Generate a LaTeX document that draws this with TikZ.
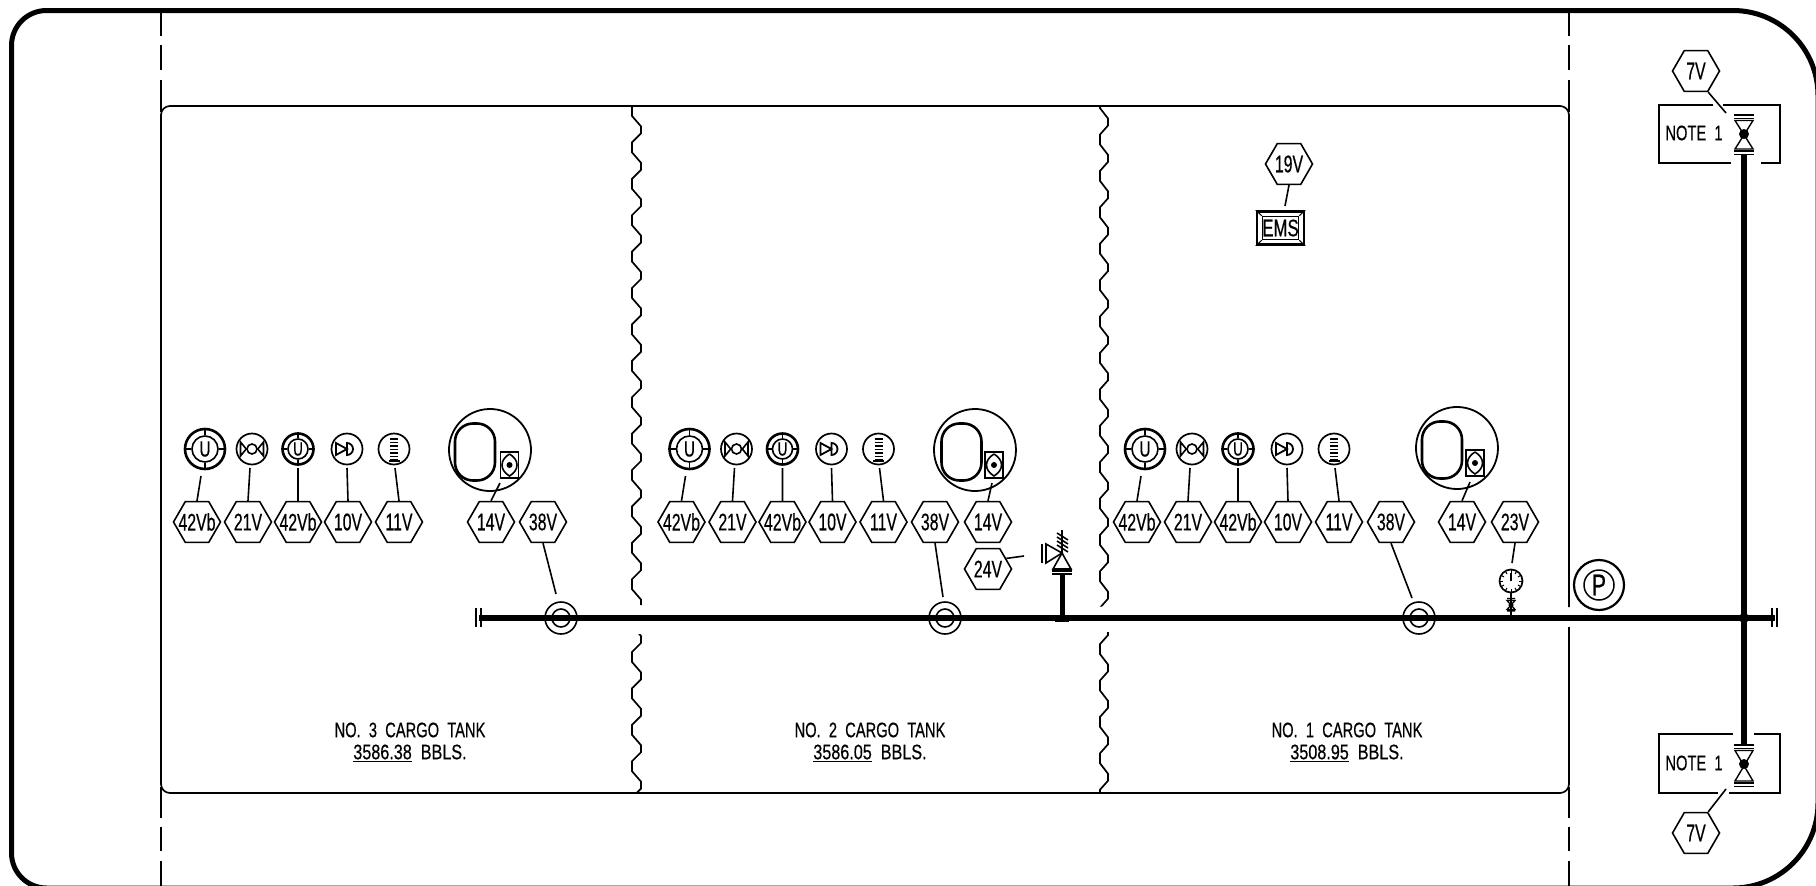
\documentclass[tikz,border=0pt]{standalone}
\usepackage{fontspec}
\usetikzlibrary{shapes.geometric}
\newfontfamily\cadfont[WordSpace=2,FakeBold=0.6]{Liberation Sans}
\newcommand{\cad}[2]{\scalebox{.7}[1]{\fontsize{#1}{#1}\cadfont #2}}
\newcommand{\hx}[1]{\makebox[0pt]{\scalebox{.66}[1]{\fontsize{24}{24}\cadfont #1}}}
\tikzset{
  thin line/.style={line width=1.6pt},
  hexa/.style={draw,regular polygon,regular polygon sides=6,minimum size=47pt,inner sep=0pt,line width=1.6pt},
  sym/.style={draw,circle,inner sep=0pt,minimum size=31pt,line width=1.7pt},
  thick sym/.style={sym,line width=2.6pt},
  pipe/.style={line width=5.5pt},
  lbl/.style={inner sep=0pt,align=center},
}
% one group of instrument symbols and hexagon tags
\newcommand{\grp}[2]{%
  \begin{scope}[xshift=#2pt]
    \node[hexa] (ha#1) at (197,522) {\hx{42Vb}};
    \node[hexa] (hb#1) at (248,522) {\hx{21V}};
    \node[hexa] (hc#1) at (298,522) {\hx{42Vb}};
    \node[hexa] (hd#1) at (348,522) {\hx{10V}};
    \node[hexa] (he#1) at (399,522) {\hx{11V}};
    % big U
    \node[thick sym,minimum size=40pt] (sa#1) at (205,449) {};
    \node[draw,circle,thin line,minimum size=26pt,inner sep=0pt] (sai#1) at (205,449) {\makebox[0pt]{\cad{22}{U}}};
    \draw[thin line] (sai#1.north)--(sa#1.north) (sai#1.south)--(sa#1.south) (sai#1.east)--(sa#1.east) (sai#1.west)--(sa#1.west);
    % butterfly
    \node[sym] (sb#1) at (252,449) {};
    \node[draw,circle,thin line,minimum size=10pt,inner sep=0pt] (sbc#1) at (252,449) {};
    \draw[thin line] (sbc#1.west)--(240.5,442)--(240.5,456)--cycle (sbc#1.east)--(263.5,442)--(263.5,456)--cycle;
    % small U
    \node[thick sym] (sc#1) at (298,449) {};
    \node[draw,circle,thin line,minimum size=20pt,inner sep=0pt] (sci#1) at (298,449) {\makebox[0pt]{\cad{19}{U}}};
    \draw[thin line] (sci#1.north)--(sc#1.north) (sci#1.south)--(sc#1.south) (sci#1.east)--(sc#1.east) (sci#1.west)--(sc#1.west);
    % check valve
    \node[sym] (sd#1) at (347,449) {};
    \draw[line width=1.8pt,line join=miter] (336,443)--(336,455)--(347,449)--cycle (347,443) arc[start angle=270,end angle=450,radius=6]--cycle;
    % level bars
    \node[sym] (se#1) at (394,449) {};
    \foreach \b in {439,442.5,446,449.5,453,456.5,460}
      \draw[line width=1.4pt] (390,\b)--(398,\b);
    \draw[line width=2pt] (388.5,460.5)--(399.5,460.5);
    % leaders
    \coordinate (la#1) at (201,476); \coordinate (lb#1) at (250,468);
    \coordinate (lc#1) at (298,468); \coordinate (ld#1) at (347,468);
    \coordinate (le#1) at (395,468);
    \draw[thin line] (ha#1.north)--(la#1) (hb#1.north)--(lb#1) (hc#1.north)--(lc#1) (hd#1.north)--(ld#1) (he#1.north)--(le#1);
  \end{scope}}
% tank gauge: name, centre x, centre y, gap start, gap end, oval x, rect x
\newcommand{\tankgauge}[7]{%
  \draw[line width=1.8pt] (#2,#3) ++(#5:41) arc[start angle=#5,end angle={#4+360},radius=41];
  \node[draw,line width=2.6pt,rounded corners=18pt,minimum width=40pt,minimum height=57pt,inner sep=0pt] (ov#1) at (#6,{#3+2}) {};
  \node[draw,line width=1.8pt,minimum width=18pt,minimum height=26pt,inner sep=0pt] (rc#1) at (#7,{#3+15}) {};
  \draw[thin line] (#7,{#3+4}) .. controls (#7+10,{#3+10}) and (#7+10,{#3+20}) .. (#7,{#3+26}) .. controls (#7-10,{#3+20}) and (#7-10,{#3+10}) .. (#7,{#3+4});
  \fill (#7,{#3+15}) circle[radius=3];
}
\newcommand{\target}[2]{\node[draw,circle,thin line,minimum size=32pt,inner sep=0pt] (tg#1) at (#2,618) {};
  \node[draw,circle,thin line,minimum size=18pt,inner sep=0pt] (tgi#1) at (#2,618) {};}
% hourglass valve: x, top tick y, centre y, bottom tick y
\newcommand{\hourglass}[4]{%
  \draw[line width=1.3pt] (#1-10,#2)--(#1+10,#2) (#1-10,#2+3.5)--(#1+10,#2+3.5) (#1-10,#4)--(#1+10,#4) (#1-10,#4+3.5)--(#1+10,#4+3.5);
  \draw[line width=1.4pt] (#1-9,#2+5.5)--(#1+9,#2+5.5)--(#1-9,#4-2)--(#1+9,#4-2)--cycle;
  \fill (#1,#3) circle[radius=5];}
\newcommand{\zig}[3]{%
  \draw[line width=1.7pt] \foreach \k in {0,...,20}{%
    \ifnum\k=0 (#1,{#3}) \fi
    -- (#1,{#3+36.4*\k}) -- (#1,{#3+36.4*\k+7}) -- (#2,{#3+36.4*\k+16}) -- (#2,{#3+36.4*\k+26})};}
\begin{document}
\begin{tikzpicture}[x=1pt,y=-1pt,line cap=butt,line join=miter]
\useasboundingbox (0,0) rectangle (1816,886);
\fill[white] (0,0) rectangle (1816,886);
\clip (0,0) rectangle (1816,886);
% outer frame
\draw[line width=5pt] (11.5,45.5) arc[start angle=180,end angle=270,radius=35] -- (1733,10.5)
  arc[start angle=270,end angle=360,radius=85] -- (1818,803)
  arc[start angle=0,end angle=90,radius=85] -- (46.5,888)
  arc[start angle=90,end angle=180,radius=35] -- cycle;
% tank outline
\draw[line width=1.7pt,rounded corners=9pt] (161,400) -- (161,793) -- (1569,793) -- (1569,627)
  (1569,607) -- (1569,106) -- (161,106) -- (161,400);
% dashed bulkheads
\foreach \x in {161,1569}{
  \draw[line width=1.7pt] (\x,13)--(\x,36) (\x,45)--(\x,70) (\x,80)--(\x,112)
     (\x,787)--(\x,818) (\x,827)--(\x,851) (\x,861)--(\x,886);
}
% dividers
\begin{scope}
  \clip (600,106) rectangle (1200,605) (600,634) rectangle (1200,792);
  \zig{641}{632}{90}
\end{scope}
\begin{scope}
  \clip (1060,106) rectangle (1200,606.5) (1060,632) rectangle (1200,792);
  \zig{1108}{1100}{82.1}
\end{scope}
% pipes
\coordinate (pl) at (479,618); \coordinate (pr) at (1775,618);
\coordinate (vt) at (1744,155); \coordinate (vb) at (1744,745); \coordinate (vj) at (1744,618);
\coordinate (rv) at (1062,573); \coordinate (rj) at (1062,618);
\draw[pipe] (pl)--(pr);
\draw[line width=6pt] (vt)--(vb);
\draw[line width=5pt] (rv)--(rj);
\fill (1055,614.5) rectangle (1069,621.5);
\fill (vj) circle[radius=5];
\draw[line width=1.7pt] (476,608)--(476,627) (481,608)--(481,627) (1772,608)--(1772,627) (1777,608)--(1777,627);
% groups
\grp{A}{0}\grp{B}{484.5}\grp{C}{940}
% tank gauges
\tankgauge{A}{490}{450}{92}{71}{475}{509.5}
\tankgauge{B}{975}{450}{76}{60}{961.5}{994}
\tankgauge{C}{1457}{448}{82}{68}{1442}{1475}
% 14V and 38V
\node[hexa] (n14A) at (491,522) {\hx{14V}};
\node[hexa] (n14B) at (988,522) {\hx{14V}};
\node[hexa] (n14C) at (1462,522) {\hx{14V}};
\node[hexa] (n38A) at (543,522) {\hx{38V}};
\node[hexa] (n38B) at (935,522) {\hx{38V}};
\node[hexa] (n38C) at (1391,522) {\hx{38V}};
\coordinate (e14A) at (500,483); \coordinate (e14B) at (992,483); \coordinate (e14C) at (1470,482);
\draw[thin line] (n14A.north)--(e14A) (n14B.north)--(e14B) (n14C.north)--(e14C);
\coordinate (e38A) at (556,594); \coordinate (e38B) at (943,597); \coordinate (e38C) at (1412,598);
\draw[thin line] (n38A.south)--(e38A) (n38B.south)--(e38B) (n38C.south)--(e38C);
\target{A}{561}\target{B}{945}\target{C}{1419}
% relief valve
\node[hexa] (n24) at (988,569) {\hx{24V}};
\coordinate (e24) at (1024,556);
\draw[thin line] (n24.30)--(e24);
\draw[thin line] (1052,571)--(1072,571) (1052,574)--(1072,574);
\draw[thin line] (1062,553)--(1053,569)--(1071,569)--cycle;
\draw[thin line] (1062,553)--(1046,544)--(1046,563)--cycle;
\draw[line width=2pt] (1042,544)--(1042,563);
\draw[thin line] (1062,530)--(1062,553);
\foreach \d in {0,4,8,12}
  \draw[thin line] (1057,{533+\d})--(1068,{540+\d});
% pressure gauge
\node[hexa] (n23) at (1515,522) {\hx{23V}};
\node[draw,circle,line width=1.7pt,minimum size=23pt,inner sep=0pt] (pg) at (1511,581) {};
\coordinate (e23) at (1512,563);
\draw[thin line] (n23.south)--(e23);
\foreach \a in {0,30,...,330}
  \draw[line width=1pt] (pg.center) ++(\a:8) -- ++(\a:3);
\draw[line width=1.4pt] (pg.center)--++(0,-8);
\coordinate (ps) at (1511,618);
\draw[line width=1.3pt] (pg.south)--(ps);
\draw[line width=1.3pt] (1507,598.5)--(1515,598.5) (1507,611)--(1515,611) (1507,600.5)--(1515,600.5)--(1507,609.5)--(1515,609.5)--cycle;
\fill (1511,605) circle[radius=2.5];
% P symbol
\node[draw,circle,line width=2.2pt,minimum size=50pt,inner sep=0pt] (pc) at (1599,585) {};
\node[draw,circle,line width=1.5pt,minimum size=30pt,inner sep=0pt] (pi) at (1599,585) {\makebox[0pt]{\cad{30}{P}}};
% EMS
\node[hexa] (n19) at (1289,164) {\hx{19V}};
\node[draw,line width=2.6pt,minimum width=47pt,minimum height=33pt,inner sep=0pt] (ems) at (1280.5,228) {};
\node[draw,line width=1.5pt,minimum width=36pt,minimum height=23pt,inner sep=0pt] (emsi) at (1280.5,228) {\makebox[0pt]{\cad{24}{EMS}}};
\draw[line width=1pt] (ems.north west)--(emsi.north west) (ems.north east)--(emsi.north east) (ems.south west)--(emsi.south west) (ems.south east)--(emsi.south east);
\coordinate (e19) at (1285,206);
\draw[thin line] (n19.south)--(e19);
% tank labels
\newcommand{\val}[1]{\scalebox{.77}[1]{\fontsize{21}{21}\cadfont #1}}
\node[lbl] (t3) at (410,730) {\cad{21}{NO. 3 CARGO TANK}};
\node[lbl] (v3) at (410,753) {\val{\underline{3586.38} BBLS.}};
\node[lbl] (t2) at (870,730) {\cad{21}{NO. 2 CARGO TANK}};
\node[lbl] (v2) at (870,753) {\val{\underline{3586.05} BBLS.}};
\node[lbl] (t1) at (1347,730) {\cad{21}{NO. 1 CARGO TANK}};
\node[lbl] (v1) at (1347,753) {\val{\underline{3508.95} BBLS.}};
% valves with note boxes
\draw[thin line] (1713,105)--(1659,105)--(1659,163)--(1731,163) (1723,105)--(1780,105)--(1780,163)--(1761,163);
\draw[thin line] (1733,734)--(1659,734)--(1659,793)--(1718,793) (1754,734)--(1780,734)--(1780,793)--(1729,793);
\hourglass{1744}{115}{134}{151}
\hourglass{1744}{745}{764}{783}
\node[lbl] (nt) at (1694,133) {\cad{21}{NOTE 1}};
\node[lbl] (nb) at (1694,763) {\cad{21}{NOTE 1}};
\node[hexa] (n7t) at (1696,71) {\hx{7V}};
\node[hexa] (n7b) at (1696,833) {\hx{7V}};
\coordinate (e7t) at (1726,113); \coordinate (e7b) at (1726,789);
\draw[thin line] (n7t.-60)--(e7t) (n7b.60)--(e7b);
\end{tikzpicture}
\end{document}
